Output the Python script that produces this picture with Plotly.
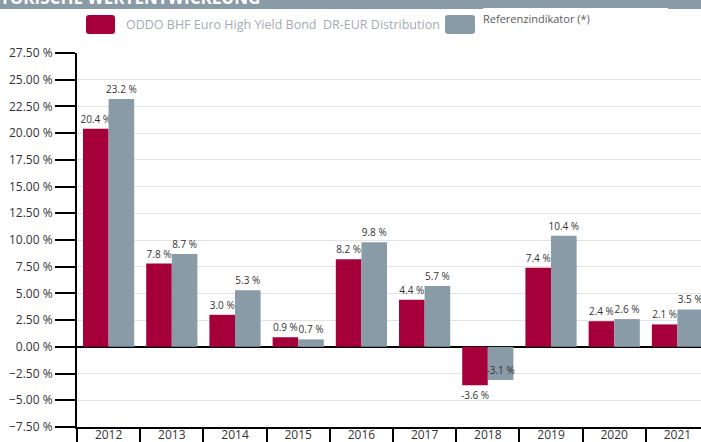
import plotly.graph_objects as go

years = ["2012", "2013", "2014", "2015", "2016", "2017", "2018", "2019", "2020", "2021"]
fund = [20.4, 7.8, 3.0, 0.9, 8.2, 4.4, -3.6, 7.4, 2.4, 2.1]
bench = [23.2, 8.7, 5.3, 0.7, 9.8, 5.7, -3.1, 10.4, 2.6, 3.5]
fund_name = "ODDO BHF Euro High Yield Bond\u00a0 DR-EUR Distribution"
bench_name = "Referenzindikator (*)"
header = "HISTORISCHE WERTENTWICKLUNG"

RED = "#a6003a"
GREY = "#8a9ba8"
W, H = 701, 442
L, T, B = 77, 53, 15
PW, PH = W - L, H - T - B


def px(x):
    return (x - L) / PW


def py(y):
    return (H - B - y) / PH


def rrect(x0, y0, x1, y1, r=3):
    rx, ry = r / PW, r / PH
    a, b, c, d = px(x0), py(y1), px(x1), py(y0)
    return (f"M{a+rx},{b} L{c-rx},{b} Q{c},{b} {c},{b+ry} L{c},{d-ry} Q{c},{d} {c-rx},{d} "
            f"L{a+rx},{d} Q{a},{d} {a},{d-ry} L{a},{b+ry} Q{a},{b} {a+rx},{b} Z")


fig = go.Figure()
fig.add_bar(x=years, y=fund, name=fund_name, marker=dict(color=RED, line=dict(width=0)),
            texttemplate="%{y:.1f} %", textposition="outside", textangle=0,
            constraintext="none",
            textfont=dict(size=10, color="#333333"), cliponaxis=False)
bench_pos = ["inside" if v < 0 else "outside" for v in bench]
fig.add_bar(x=years, y=bench, name=bench_name, marker=dict(color=GREY, line=dict(width=0)),
            texttemplate="%{y:.1f} %", textposition=bench_pos, textangle=0,
            insidetextanchor="end", constraintext="none",
            textfont=dict(size=10, color="#333333"), cliponaxis=False)

shapes = [
    dict(type="rect", xref="paper", yref="paper", x0=px(0), x1=px(W), y0=py(9), y1=py(-2),
         fillcolor=GREY, line=dict(width=0), layer="below"),
    dict(type="rect", xref="paper", yref="paper", x0=px(483), x1=px(668), y0=py(10), y1=py(8),
         fillcolor="white", line=dict(width=0)),
    dict(type="path", xref="paper", yref="paper", path=rrect(86, 15, 115, 34),
         fillcolor=RED, line=dict(width=0)),
    dict(type="path", xref="paper", yref="paper", path=rrect(445, 15, 475, 34),
         fillcolor=GREY, line=dict(width=0)),
]

annotations = [
    dict(xref="paper", yref="paper", x=px(262), y=py(11), xanchor="right", yanchor="bottom",
         text=f"<b>{header}</b>", showarrow=False,
         font=dict(family="Open Sans", size=17, color="white")),
    dict(xref="paper", yref="paper", x=px(124), y=py(24.5), xanchor="left", yanchor="middle",
         text=fund_name, showarrow=False,
         font=dict(family="Open Sans", size=12.5, color="#a2abb4")),
    dict(xref="paper", yref="paper", x=px(481), y=py(18), xanchor="left", yanchor="middle",
         text=bench_name, showarrow=False,
         font=dict(family="Open Sans", size=11, color="#5a5a5a")),
]

fig.update_layout(
    width=W, height=H,
    margin=dict(l=L, r=0, t=T, b=B, pad=0, autoexpand=False),
    paper_bgcolor="white", plot_bgcolor="white",
    barmode="group", bargap=0.19, bargroupgap=0,
    showlegend=False,
    font=dict(family="Open Sans", color="#333333"),
    shapes=shapes, annotations=annotations,
)

fig.update_xaxes(
    type="category", range=[-0.5, 9.373], automargin=False,
    showline=True, linecolor="black", linewidth=2,
    ticks="outside", tickson="boundaries", ticklen=16, tickwidth=2, tickcolor="black",
    ticklabelstandoff=-4,
    tickfont=dict(size=12, color="#333333"),
    showgrid=False, zeroline=False,
)
fig.update_yaxes(
    range=[-7.5, 27.5], dtick=2.5, tick0=0, automargin=False,
    tickformat=".2f", ticksuffix=" %",
    showline=True, linecolor="black", linewidth=2,
    ticks="outside", ticklen=20, tickwidth=2, tickcolor="black",
    tickfont=dict(size=12, color="#333333"),
    showgrid=True, gridcolor="#e3e3e3", gridwidth=1,
    zeroline=True, zerolinecolor="black", zerolinewidth=1.5,
)

fig.write_html("out.html")
